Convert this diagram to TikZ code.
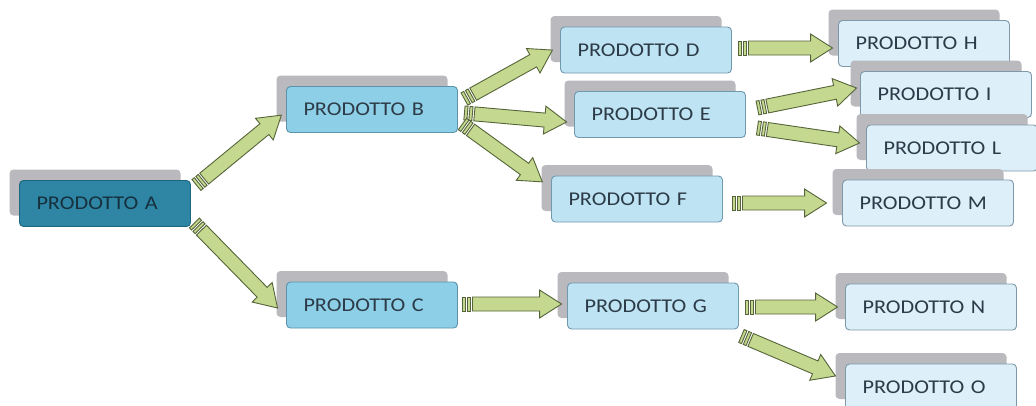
\documentclass[tikz,border=0pt]{standalone}
\usepackage{fontspec}
\usetikzlibrary{calc,shadows}
\newfontfamily\boxfont[FakeStretch=1.14]{Carlito}

\definecolor{shadowgray}{HTML}{B9B9BE}
\definecolor{rootfill}{HTML}{2E86A4}
\definecolor{rootedge}{HTML}{1D6680}
\definecolor{rootink}{HTML}{16303E}
\definecolor{midfill}{HTML}{8DCFE7}
\definecolor{midedge}{HTML}{5B93AC}
\definecolor{subfill}{HTML}{BEE3F3}
\definecolor{subedge}{HTML}{7199AE}
\definecolor{leaffill}{HTML}{DDEFF9}
\definecolor{leafedge}{HTML}{7F98A8}
\definecolor{boxink}{HTML}{2C3B47}
\definecolor{arrowfill}{HTML}{C4D98F}
\definecolor{arrowedge}{HTML}{55643A}

\tikzset{
  prodbox/.style={rounded corners=4pt, minimum width=171pt, minimum height=46pt,
    text width=137pt, align=left, inner xsep=17pt, inner ysep=0pt,
    font=\boxfont\fontsize{19.5}{22}\selectfont, text=boxink, line width=0.9pt,
    general shadow={fill=shadowgray, draw=none, shadow xshift=-10pt, shadow yshift=11pt}},
  rootbox/.style={prodbox, fill=rootfill, draw=rootedge, text=rootink},
  midbox/.style={prodbox, fill=midfill, draw=midedge},
  subbox/.style={prodbox, fill=subfill, draw=subedge},
  leafbox/.style={prodbox, fill=leaffill, draw=leafedge},
  arrowline/.style={fill=arrowfill, draw=arrowedge, line width=0.9pt, line join=miter}
}

% striped block arrow from #1 to #2
\newcommand\blockarrow[2]{%
  \path let \p1=#1, \p2=#2, \n1={atan2(\y2-\y1,\x2-\x1)},
    \n2={veclen(\x2-\x1,\y2-\y1)} in \pgfextra{\xdef\arrAng{\n1}\xdef\arrLen{\n2}};
  \begin{scope}[shift={#1}, rotate=\arrAng]
    \draw[arrowline] (0pt,-7pt) rectangle (3pt,7pt);
    \draw[arrowline] (5pt,-7pt) rectangle (8pt,7pt);
    \draw[arrowline] (10pt,-7pt) -- ({\arrLen-22pt},-7pt) -- ({\arrLen-22pt},-14pt)
      -- (\arrLen,0pt) -- ({\arrLen-22pt},14pt) -- ({\arrLen-22pt},7pt)
      -- (10pt,7pt) -- cycle;
  \end{scope}}

\begin{document}
\begin{tikzpicture}[x=1pt,y=-1pt]
\useasboundingbox (0,0) rectangle (1036,405);
\clip (0,0) rectangle (1036,405);
\fill[white] (0,0) rectangle (1036,405);

% product boxes
\node[rootbox] (A) at (105,203.5) {PRODOTTO A};
\node[midbox]  (B) at (372,109.5) {PRODOTTO B};
\node[midbox]  (C) at (372,305)   {PRODOTTO C};
\node[subbox]  (D) at (646,50)    {PRODOTTO D};
\node[subbox]  (E) at (660,114.5) {PRODOTTO E};
\node[subbox]  (F) at (637,199)   {PRODOTTO F};
\node[subbox]  (G) at (653,306)   {PRODOTTO G};
\node[leafbox] (H) at (924,43.5)  {PRODOTTO H};
\node[leafbox] (I) at (946,94.5)  {PRODOTTO I};
\node[leafbox] (L) at (952,148)   {PRODOTTO L};
\node[leafbox] (M) at (928,203)   {PRODOTTO M};
\node[leafbox] (N) at (931,307)   {PRODOTTO N};
\node[leafbox] (O) at (931,387)   {PRODOTTO O};

% arrow ends
\coordinate (ab0) at ($(A.east)+(5.5,-18.5)$);
\coordinate (ab1) at ($(B.west)+(-4.5,5.5)$);
\coordinate (ac0) at ($(A.east)+(3.5,19.5)$);
\coordinate (ac1) at ($(C.west)+(-8.5,3)$);
\coordinate (bd0) at ($(B.east)+(6.5,-10.5)$);
\coordinate (bd1) at ($(D.west)+(-7.5,0)$);
\coordinate (be0) at ($(B.east)+(6.5,3.5)$);
\coordinate (be1) at ($(E.west)+(-7.5,7.5)$);
\coordinate (bf0) at ($(B.east)+(4.5,14.5)$);
\coordinate (bf1) at ($(F.west)+(-8.5,-17)$);
\coordinate (cg0) at ($(C.east)+(4.5,-1)$);
\coordinate (cg1) at ($(G.west)+(-5.5,-2)$);
\coordinate (dh0) at ($(D.east)+(6.5,-2)$);
\coordinate (dh1) at ($(H.west)+(-5.5,4.5)$);
\coordinate (ei0) at ($(E.east)+(11.5,-6.5)$);
\coordinate (ei1) at ($(I.west)+(-3.5,-6.5)$);
\coordinate (el0) at ($(E.east)+(11.5,13.5)$);
\coordinate (el1) at ($(L.west)+(-6.5,-5)$);
\coordinate (fm0) at ($(F.east)+(9.5,4)$);
\coordinate (fm1) at ($(M.west)+(-15.5,0)$);
\coordinate (gn0) at ($(G.east)+(6.5,1)$);
\coordinate (gn1) at ($(N.west)+(-7.5,0)$);
\coordinate (go0) at ($(G.east)+(2.5,30)$);
\coordinate (go1) at ($(O.west)+(-9.5,-11)$);

% connectors
\blockarrow{(ab0)}{(ab1)}
\blockarrow{(ac0)}{(ac1)}
\blockarrow{(bd0)}{(bd1)}
\blockarrow{(be0)}{(be1)}
\blockarrow{(bf0)}{(bf1)}
\blockarrow{(cg0)}{(cg1)}
\blockarrow{(dh0)}{(dh1)}
\blockarrow{(ei0)}{(ei1)}
\blockarrow{(el0)}{(el1)}
\blockarrow{(fm0)}{(fm1)}
\blockarrow{(gn0)}{(gn1)}
\blockarrow{(go0)}{(go1)}
\end{tikzpicture}
\end{document}
